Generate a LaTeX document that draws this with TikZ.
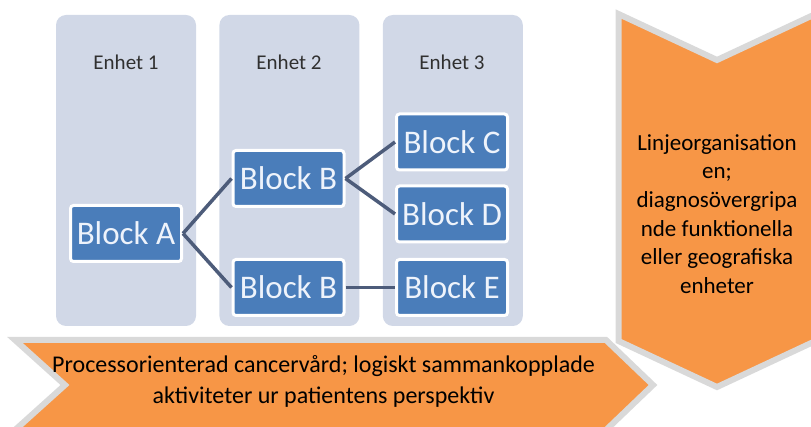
\documentclass[tikz,border=0pt]{standalone}
\usepackage{fontspec}
\setmainfont{Carlito}
\usetikzlibrary{positioning}
\definecolor{colfill}{HTML}{D1D8E7}
\definecolor{titlegray}{HTML}{303030}
\definecolor{blockblue}{HTML}{4A7DBA}
\definecolor{blocktext}{HTML}{EEF3FB}
\definecolor{linkgray}{HTML}{4D5C7A}
\definecolor{arroworange}{HTML}{F79646}
\definecolor{arrowgray}{HTML}{D9D9D9}

\begin{document}
\begin{tikzpicture}[
    x=1pt, y=-1pt,
    node distance=13pt and 23pt,
    enhet/.style={rectangle, rounded corners=10pt, fill=colfill, minimum width=140pt, minimum height=311pt, inner sep=0pt},
    enhtitle/.style={text=titlegray, font=\fontsize{21}{25}\selectfont},
    block/.style={rectangle, rounded corners=3pt, draw=white, line width=3pt, fill=blockblue, text=blocktext, minimum width=111pt, minimum height=56pt, inner sep=0pt, font=\fontsize{33}{36}\selectfont},
    link/.style={draw=linkgray, line width=3.5pt},
    arrowbox/.style={fill=arroworange, draw=arrowgray, line width=6pt, line join=miter},
    arrowtext/.style={align=center, text=black, font=\fontsize{24}{31}\selectfont}
  ]
  \useasboundingbox (0,0) rectangle (811,427);
  \clip (0,0) rectangle (811,427);

  % Columns
  \node[enhet] (enh1) at (126,170.5) {};
  \node[enhet, right=of enh1] (enh2) {};
  \node[enhet, right=of enh2] (enh3) {};
  \node[enhtitle] (t1) at (126,62) {Enhet 1};
  \node[enhtitle] (t2) at (289,62) {Enhet 2};
  \node[enhtitle] (t3) at (452,62) {Enhet 3};

  % Blocks
  \node[block] (blkA) at (126,233.5) {Block A};
  \node[block] (blkB1) at (288.5,178.5) {Block B};
  \node[block, below=50pt of blkB1] (blkB2) {Block B};
  \node[block] (blkC) at (452,142) {Block C};
  \node[block, below=of blkC] (blkD) {Block D};
  \node[block, right=49.5pt of blkB2] (blkE) {Block E};

  % Links
  \draw[link] (blkA.east) -- (blkB1.west);
  \draw[link] (blkA.east) -- (blkB2.west);
  \draw[link] (blkB1.east) -- (blkC.west);
  \draw[link] (blkB1.east) -- (blkD.west);
  \draw[link] (blkB2.east) -- (blkE.west);

  % Arrows
  \draw[arrowbox] (15,340) -- (606,340) -- (653,385) -- (606,430) -- (15,430) -- (65,385) -- cycle;
  \node[arrowtext] (proc) at (323.5,381) {Processorienterad cancervård; logiskt sammankopplade\\aktiviteter ur patientens perspektiv};
  \draw[arrowbox] (618.5,14) -- (717,60) -- (815.5,14) -- (815.5,341) -- (717,387) -- (618.5,341) -- cycle;
  \node[arrowtext, font=\fontsize{23}{28.6}\selectfont] (linje) at (717,214) {Linjeorganisation\\en;\\diagnosövergripa\\nde funktionella\\eller geografiska\\enheter};

\end{tikzpicture}
\end{document}
